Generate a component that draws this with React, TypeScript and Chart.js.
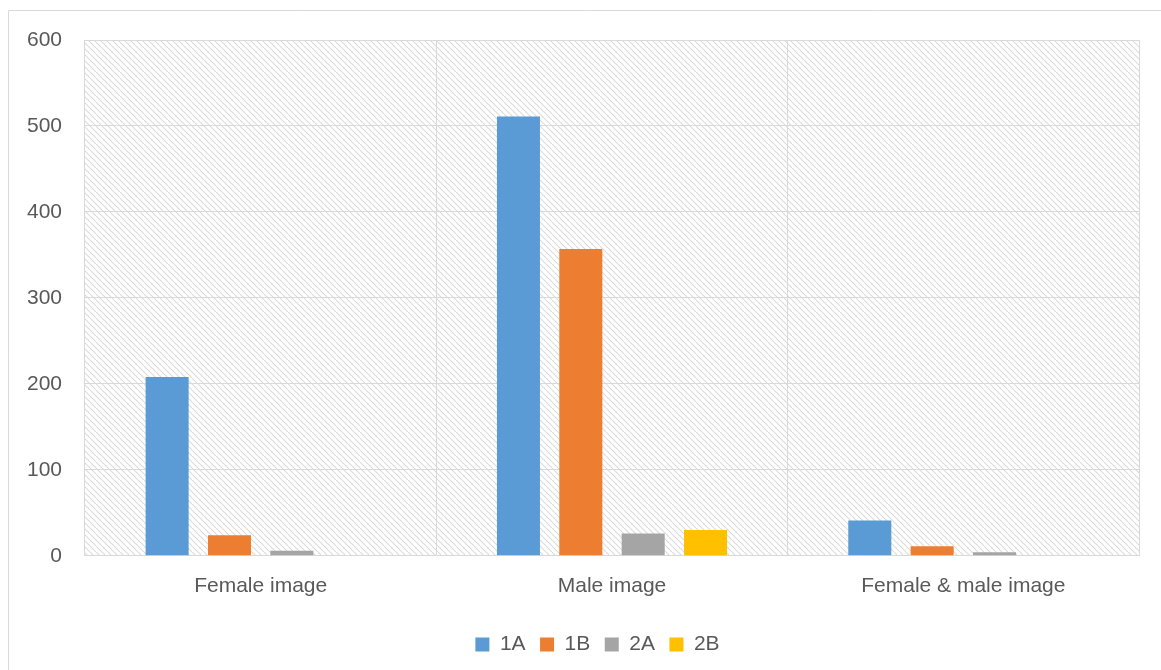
import React, { useEffect, useRef } from "react";
import { Chart, registerables } from "chart.js";

Chart.register(...registerables);

const categories = ["Female image", "Male image", "Female & male image"];
const series1A = [208, 511, 41];
const series1B = [24, 357, 11];
const series2A = [6, 26, 4];
const series2B = [0, 30, 0];
const seriesNames = ["1A", "1B", "2A", "2B"];
const seriesColors = ["#5b9bd5", "#ed7d31", "#a5a5a5", "#ffc000"];
const yTicks = [0, 100, 200, 300, 400, 500, 600];

const W = 1161;
const H = 700;

function makePattern(ctx: CanvasRenderingContext2D) {
  const s = 6;
  const c = document.createElement("canvas");
  c.width = s;
  c.height = s;
  const p = c.getContext("2d")!;
  p.fillStyle = "#ffffff";
  p.fillRect(0, 0, s, s);
  p.strokeStyle = "#dadada";
  p.lineWidth = 1.1;
  for (let k = -1; k <= 1; k++) {
    p.beginPath();
    p.moveTo(k * s, 0);
    p.lineTo(k * s + s, s);
    p.stroke();
  }
  return ctx.createPattern(c, "repeat");
}

const bgPlugin = {
  id: "bgPlugin",
  afterLayout(chart: any) {
    if (chart.legend) {
      chart.legend.left += 18;
      chart.legend.right += 18;
    }
  },
  beforeDraw(chart: any) {
    const { ctx, chartArea } = chart;
    ctx.save();
    ctx.fillStyle = "#ffffff";
    ctx.fillRect(0, 0, chart.width, chart.height);
    ctx.strokeStyle = "#d9d9d9";
    ctx.lineWidth = 1;
    ctx.beginPath();
    ctx.moveTo(8.5, chart.height + 5);
    ctx.lineTo(8.5, 10.5);
    ctx.lineTo(chart.width + 5, 10.5);
    ctx.stroke();
    const pat = makePattern(ctx);
    if (pat) {
      ctx.fillStyle = pat;
      ctx.fillRect(
        chartArea.left,
        chartArea.top,
        chartArea.right - chartArea.left,
        chartArea.bottom - chartArea.top
      );
    }
    ctx.restore();
  },
};

export default function App() {
  const ref = useRef<HTMLCanvasElement>(null);

  useEffect(() => {
    document.body.style.margin = "0";
    const canvas = ref.current!;
    const values = [series1A, series1B, series2A, series2B];
    const font = { family: "'Liberation Sans', Arial, sans-serif", size: 21 };
    const chart = new Chart(canvas, {
      type: "bar",
      data: {
        labels: categories,
        datasets: seriesNames.map((n, i) => ({
          label: n,
          data: values[i],
          backgroundColor: seriesColors[i],
          borderWidth: 0,
          categoryPercentage: 0.71,
          barPercentage: 0.69,
        })),
      },
      options: {
        responsive: false,
        animation: false,
        layout: { padding: { left: 20, right: 22, top: 40, bottom: 35 } },
        plugins: {
          tooltip: { enabled: false },
          legend: {
            position: "bottom",
            labels: {
              boxWidth: 14,
              boxHeight: 14,
              padding: 14.5,
              color: "#595959",
              font,
            },
          },
        },
        scales: {
          x: {
            grid: { color: "#d9d9d9", lineWidth: 1, drawTicks: false, offset: true },
            border: { display: false },
            ticks: { color: "#595959", font, padding: 18 },
            afterFit: (s: any) => {
              s.height = 63.7;
            },
          },
          y: {
            min: 0,
            max: 600,
            afterBuildTicks: (s: any) => {
              s.ticks = yTicks.map((v) => ({ value: v }));
            },
            grid: { color: "#d9d9d9", lineWidth: 1, drawTicks: false },
            border: { display: false },
            ticks: { color: "#595959", font, padding: 23 },
            afterFit: (s: any) => {
              s.width = 65;
            },
          },
        },
      },
      plugins: [bgPlugin],
    } as any);
    return () => chart.destroy();
  }, []);

  return (
    <div style={{ width: W, height: 670, overflow: "hidden", position: "relative" }}>
      <canvas ref={ref} width={W} height={H} style={{ display: "block", width: W, height: H }} />
    </div>
  );
}
